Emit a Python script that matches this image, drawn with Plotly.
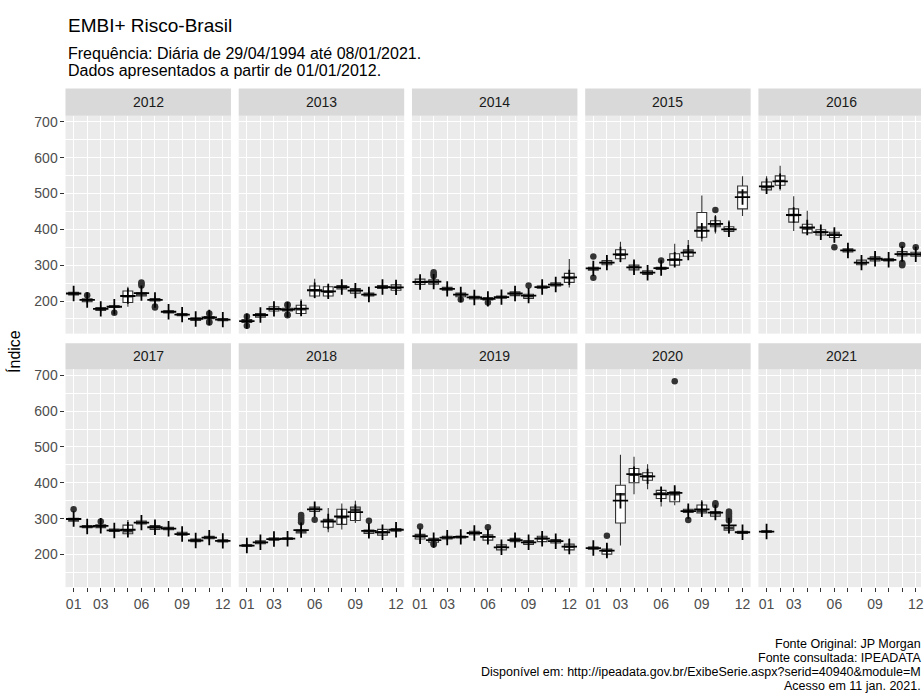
import plotly.graph_objects as go

# ---------------- data ----------------
YEARS = [2012, 2013, 2014, 2015, 2016, 2017, 2018, 2019, 2020, 2021]
MONTH_TICKS = [1, 2, 3, 4, 5, 6, 7, 8, 9, 10, 11, 12]
MONTH_LABELS = ["01", "", "03", "", "", "06", "", "", "09", "", "", "12"]
Y_TICKS = [200, 300, 400, 500, 600, 700]
Y_MINOR = [150, 250, 350, 450, 550, 650]

Q1 = [
    [217, 198, 174, 182, 196, 214, 200, 167, 159, 146, 151, 145],
    [140, 155, 172, 172, 165, 214, 214, 234, 222, 214, 235, 230],
    [246, 247, 230, 212, 206, 203, 208, 215, 207, 236, 242, 252],
    [286, 301, 318, 287, 274, 288, 300, 325, 378, 407, 394, 457],
    [510, 523, 420, 390, 384, 377, 337, 301, 312, 312, 326, 325],
    [293, 275, 275, 264, 258, 285, 270, 269, 254, 236, 244, 235],
    [223, 230, 240, 242, 260, 320, 276, 284, 295, 259, 254, 265],
    [243, 234, 243, 246, 255, 240, 213, 236, 228, 236, 232, 213],
    [215, 201, 288, 400, 407, 356, 347, 317, 316, 307, 268, 259],
    [262],
]
MEDIAN = [
    [220, 202, 178, 185, 213, 218, 205, 170, 162, 150, 154, 148],
    [144, 160, 178, 176, 177, 230, 226, 239, 230, 218, 240, 237],
    [253, 253, 234, 218, 210, 206, 211, 221, 213, 239, 246, 264],
    [290, 307, 329, 294, 279, 291, 316, 338, 405, 413, 400, 503],
    [518, 535, 440, 402, 392, 386, 342, 306, 318, 315, 332, 330],
    [297, 278, 279, 268, 265, 289, 276, 273, 258, 240, 248, 238],
    [225, 234, 243, 244, 264, 327, 294, 304, 325, 265, 262, 269],
    [250, 240, 247, 249, 261, 250, 222, 241, 234, 245, 237, 222],
    [218, 210, 368, 422, 418, 370, 368, 322, 322, 315, 274, 262],
    [264],
]
Q3 = [
    [224, 206, 182, 187, 228, 223, 207, 173, 165, 153, 157, 151],
    [148, 165, 184, 180, 188, 242, 240, 243, 235, 222, 243, 245],
    [261, 259, 238, 222, 213, 210, 214, 226, 219, 242, 251, 277],
    [294, 313, 343, 300, 284, 294, 332, 343, 447, 424, 407, 521],
    [532, 549, 457, 414, 399, 392, 346, 314, 323, 318, 338, 336],
    [301, 281, 283, 271, 282, 293, 281, 276, 262, 243, 251, 241],
    [227, 238, 246, 246, 268, 332, 298, 326, 332, 268, 270, 272],
    [256, 245, 251, 251, 265, 255, 227, 245, 239, 251, 242, 229],
    [221, 215, 393, 440, 428, 379, 375, 326, 338, 320, 280, 265],
    [266],
]
LOWER = [
    [210, 192, 168, 176, 184, 208, 192, 160, 153, 141, 146, 140],
    [133, 150, 165, 165, 160, 208, 209, 228, 214, 207, 230, 225],
    [233, 240, 222, 206, 200, 198, 202, 210, 200, 230, 236, 238],
    [278, 295, 308, 280, 268, 284, 296, 320, 366, 388, 385, 437],
    [503, 508, 395, 385, 378, 364, 330, 294, 306, 305, 312, 318],
    [282, 268, 268, 259, 253, 280, 262, 263, 248, 226, 238, 228],
    [215, 222, 232, 237, 252, 312, 262, 270, 288, 252, 248, 258],
    [235, 228, 237, 240, 250, 234, 207, 229, 223, 230, 227, 208],
    [210, 192, 225, 368, 382, 334, 337, 310, 310, 300, 258, 250],
    [258],
]
UPPER = [
    [232, 210, 188, 190, 240, 232, 213, 178, 170, 157, 161, 155],
    [155, 172, 190, 186, 205, 262, 245, 248, 243, 228, 248, 252],
    [268, 266, 245, 230, 220, 215, 222, 233, 230, 248, 255, 317],
    [305, 320, 365, 310, 292, 300, 360, 370, 494, 440, 425, 548],
    [548, 577, 492, 452, 405, 402, 350, 322, 333, 322, 345, 342],
    [310, 288, 287, 274, 296, 298, 292, 282, 266, 247, 256, 245],
    [233, 246, 252, 252, 278, 340, 330, 342, 350, 280, 278, 280],
    [265, 250, 257, 258, 272, 266, 235, 252, 245, 258, 248, 245],
    [227, 228, 478, 473, 452, 388, 388, 335, 352, 330, 290, 272],
    [270],
]
MEAN = [
    [221, 203, 178, 184, 214, 222, 203, 170, 162, 150, 154, 148],
    [144, 161, 178, 176, 179, 230, 227, 239, 229, 218, 239, 238],
    [253, 254, 234, 218, 210, 206, 211, 221, 215, 239, 246, 266],
    [291, 307, 330, 294, 279, 292, 315, 335, 396, 415, 400, 490],
    [520, 534, 440, 405, 392, 384, 341, 307, 318, 315, 331, 330],
    [299, 278, 280, 267, 269, 289, 276, 272, 257, 239, 247, 238],
    [225, 234, 243, 244, 268, 326, 292, 306, 318, 266, 262, 269],
    [251, 240, 247, 249, 260, 249, 220, 240, 234, 244, 237, 222],
    [218, 211, 350, 424, 418, 368, 372, 321, 326, 317, 281, 262],
    [264],
]
OUTLIER_MONTH = [
    [2, 4, 6, 6, 6, 7, 7, 11, 11, 11],
    [1, 1, 4, 4, 4, 4],
    [2, 2, 2, 4, 6, 9],
    [1, 1, 6, 10],
    [6, 11, 11, 11, 11, 12],
    [1, 3],
    [5, 5, 5, 5, 5, 6, 10],
    [1, 2, 2, 6],
    [2, 7, 8, 10, 10, 11, 11, 11, 11, 11, 11],
    [],
]
OUTLIER_VALUE = [
    [216, 167, 243, 248, 252, 182, 185, 165, 140, 142],
    [157, 131, 190, 188, 160, 162],
    [270, 275, 280, 204, 196, 243],
    [324, 265, 313, 454],
    [350, 356, 303, 306, 300, 350],
    [326, 292],
    [290, 295, 300, 305, 310, 297, 294],
    [278, 228, 231, 276],
    [252, 683, 296, 343, 338, 295, 300, 305, 310, 315, 320],
    [],
]

TITLE = "EMBI+ Risco-Brasil"
SUBTITLE = ["Frequência: Diária de 29/04/1994 até 08/01/2021.",
            "Dados apresentados a partir de 01/01/2012."]
CAPTION = ["Fonte Original: JP Morgan",
           "Fonte consultada: IPEADATA",
           "Disponível em: http://ipeadata.gov.br/ExibeSerie.aspx?serid=40940&module=M",
           "Acesso em 11 jan. 2021."]
Y_TITLE = "Índice"

# ---------------- layout constants (pixels) ----------------
W, H = 924, 698
FONT = "Liberation Sans, Arial, sans-serif"
COL_LEFT = [65.7, 239.5, 413.3, 587.1, 760.9]
PANEL_W = 166.0
PANEL_TOP = [114.0, 368.2]
PANEL_BOT = [332.6, 586.8]
STRIP_TOP = [86.7, 342.3]
X_LO, X_HI = 0.4, 12.6
Y_RANGE = [109, 717]
BOX_W = 0.72
DARK = "#333333"


def px_x(p):
    return p / W


def px_y(p):
    return 1 - p / H


fig = go.Figure()
layout = dict(
    width=W, height=H, autosize=False,
    margin=dict(l=0, r=0, t=0, b=0, pad=0),
    paper_bgcolor="white", plot_bgcolor="#EBEBEB",
    showlegend=False, font=dict(family=FONT),
)
shapes, annotations = [], []

for i, yr in enumerate(YEARS):
    r, c = divmod(i, 5)
    n = i + 1
    xa = "x" if n == 1 else f"x{n}"
    ya = "y" if n == 1 else f"y{n}"
    left = COL_LEFT[c]
    right = left + PANEL_W
    vis_right = min(right, W)
    x_end = X_LO + (X_HI - X_LO) * (vis_right - left) / PANEL_W

    months = list(range(1, len(Q1[i]) + 1))

    # boxes
    fig.add_trace(go.Box(
        x=months, q1=Q1[i], median=MEDIAN[i], q3=Q3[i],
        lowerfence=LOWER[i], upperfence=UPPER[i],
        width=BOX_W, whiskerwidth=0, fillcolor="white",
        line=dict(color=DARK, width=1.1), boxpoints=False,
        xaxis=xa, yaxis=ya, hoverinfo="skip", showlegend=False,
    ))
    # thicker median segments
    mx, my = [], []
    for m, v in zip(months, MEDIAN[i]):
        mx += [m - BOX_W / 2, m + BOX_W / 2, None]
        my += [v, v, None]
    fig.add_trace(go.Scatter(
        x=mx, y=my, mode="lines", line=dict(color=DARK, width=2.4),
        xaxis=xa, yaxis=ya, hoverinfo="skip", showlegend=False,
    ))
    # outliers
    if OUTLIER_MONTH[i]:
        fig.add_trace(go.Scatter(
            x=OUTLIER_MONTH[i], y=OUTLIER_VALUE[i], mode="markers",
            marker=dict(symbol="circle", size=6.5, color=DARK, line=dict(width=0)),
            xaxis=xa, yaxis=ya, hoverinfo="skip", showlegend=False,
        ))
    # mean "+"
    fig.add_trace(go.Scatter(
        x=months, y=MEAN[i], mode="markers",
        marker=dict(symbol="cross-thin-open", size=11, color="black",
                    line=dict(color="black", width=1.8)),
        xaxis=xa, yaxis=ya, hoverinfo="skip", showlegend=False,
    ))

    bottom_row = (r == 1)
    left_col = (c == 0)
    layout["xaxis" if n == 1 else f"xaxis{n}"] = dict(
        domain=[px_x(left), px_x(vis_right)], anchor=ya,
        range=[X_LO, x_end], tickmode="array", tickvals=MONTH_TICKS,
        ticktext=MONTH_LABELS, showticklabels=bottom_row,
        ticks="outside" if bottom_row else "", ticklen=4, tickwidth=1.1,
        tickcolor=DARK, tickfont=dict(size=14, color="#4D4D4D", family=FONT),
        ticklabeloverflow="allow",
        showgrid=True, gridcolor="white", gridwidth=1.2,
        zeroline=False, showline=False, fixedrange=True,
    )
    layout["yaxis" if n == 1 else f"yaxis{n}"] = dict(
        domain=[px_y(PANEL_BOT[r]), px_y(PANEL_TOP[r])], anchor=xa,
        range=Y_RANGE, tickmode="array", tickvals=Y_TICKS,
        ticktext=[str(v) for v in Y_TICKS], showticklabels=left_col,
        ticks="outside" if left_col else "", ticklen=4, tickwidth=1.1,
        tickcolor=DARK, tickfont=dict(size=14, color="#4D4D4D", family=FONT),
        showgrid=True, gridcolor="white", gridwidth=1.2,
        minor=dict(tickvals=Y_MINOR, showgrid=True, gridcolor="white",
                   gridwidth=0.6, ticks=""),
        zeroline=False, showline=False, fixedrange=True,
    )

    # strip
    shapes.append(dict(
        type="rect", xref="paper", yref="paper",
        x0=px_x(left), x1=px_x(vis_right),
        y0=px_y(PANEL_TOP[r]), y1=px_y(STRIP_TOP[r]),
        fillcolor="#D9D9D9", line=dict(width=0), layer="below",
    ))
    annotations.append(dict(
        text=str(yr), xref="paper", yref="paper",
        x=px_x(left + PANEL_W / 2), y=px_y((STRIP_TOP[r] + PANEL_TOP[r]) / 2),
        xanchor="center", yanchor="middle", showarrow=False,
        font=dict(size=14, color="#1A1A1A", family=FONT),
    ))

# titles
annotations.append(dict(
    text=TITLE, xref="paper", yref="paper", x=px_x(66), y=px_y(24),
    xanchor="left", yanchor="middle", showarrow=False,
    font=dict(size=19, color="black", family=FONT),
))
for k, line in enumerate(SUBTITLE):
    annotations.append(dict(
        text=line, xref="paper", yref="paper", x=px_x(66), y=px_y(51.5 + 17 * k),
        xanchor="left", yanchor="middle", showarrow=False,
        font=dict(size=16, color="black", family=FONT),
    ))
for k, line in enumerate(CAPTION):
    annotations.append(dict(
        text=line, xref="paper", yref="paper", x=px_x(926), y=px_y(644 + 14 * k),
        xanchor="right", yanchor="middle", showarrow=False,
        font=dict(size=12.5, color="black", family=FONT),
    ))
annotations.append(dict(
    text=Y_TITLE, xref="paper", yref="paper", x=px_x(14), y=px_y(350),
    xanchor="center", yanchor="middle", textangle=-90, showarrow=False,
    font=dict(size=16, color="black", family=FONT),
))

layout["shapes"] = shapes
layout["annotations"] = annotations
fig.update_layout(**layout)
fig.write_html("out.html", config={"displayModeBar": False})
